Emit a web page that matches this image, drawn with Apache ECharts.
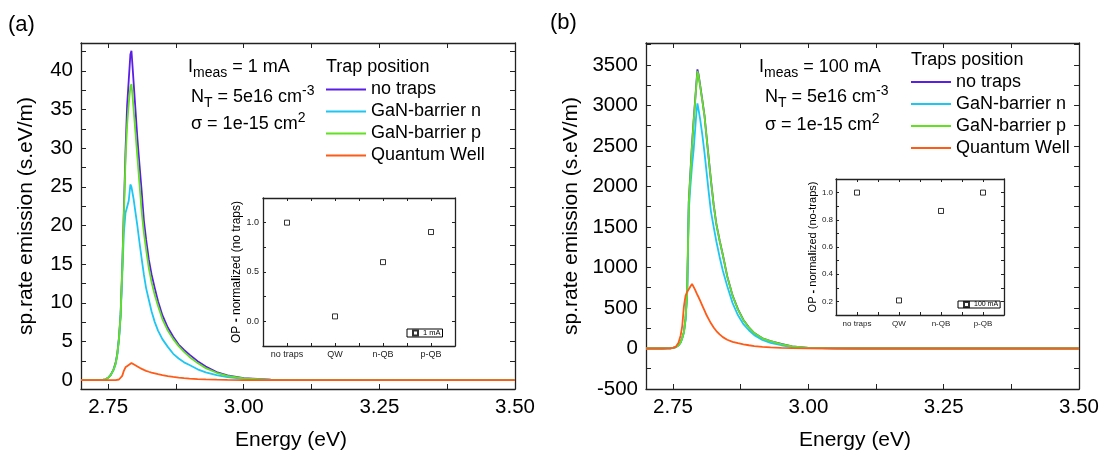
<!DOCTYPE html>
<html><head><meta charset="utf-8">
<script src="https://cdn.jsdelivr.net/npm/echarts@6/dist/echarts.min.js"></script>
<style>html,body{margin:0;padding:0;background:#fff}#c{width:1102px;height:456px}</style>
</head><body><div id="c"></div>
<script>
const F = "'Liberation Sans', Arial, Helvetica, sans-serif";

// Energy grid (eV)
const energy = [2.70, 2.73, 2.74, 2.745, 2.75, 2.755, 2.76, 2.764, 2.767, 2.770, 2.773, 2.776, 2.779, 2.782, 2.785, 2.788, 2.791, 2.793, 2.795, 2.797, 2.800, 2.804, 2.808, 2.812, 2.816, 2.820, 2.825, 2.830, 2.836, 2.842, 2.850, 2.860, 2.870, 2.880, 2.890, 2.900, 2.915, 2.930, 2.950, 2.970, 3.000, 3.050, 3.100, 3.200, 3.300, 3.400, 3.500];

// Panel (a): I_meas = 1 mA
const aNoTraps = [0, 0, 0.02, 0.1, 0.3, 0.7, 1.4, 2.3, 3.5, 5.5, 8.5, 14.5, 22.0, 29.5, 35.5, 38.8, 42.1, 42.6, 40.6, 38.5, 35.4, 31.2, 27.7, 24.3, 20.6, 18.2, 15.6, 13.7, 11.9, 10.2, 8.4, 6.8, 5.6, 4.6, 3.9, 3.3, 2.45, 1.75, 1.05, 0.6, 0.25, 0.05, 0.01, 0, 0, 0, 0];
const aBarrierN = [0, 0, 0.02, 0.09, 0.28, 0.65, 1.3, 2.1, 3.3, 5.2, 8.2, 13.5, 19.0, 21.6, 22.4, 23.2, 25.3, 25.0, 24.2, 23.4, 21.9, 19.9, 17.7, 15.6, 13.6, 11.9, 10.4, 8.9, 7.5, 6.4, 5.3, 4.3, 3.4, 2.8, 2.3, 1.95, 1.4, 1.0, 0.65, 0.4, 0.15, 0.03, 0, 0, 0, 0, 0];
const aBarrierP = [0, 0, 0.02, 0.1, 0.29, 0.68, 1.35, 2.2, 3.4, 5.4, 8.4, 14.3, 21.5, 28.5, 33.0, 35.8, 37.9, 38.3, 36.8, 35.0, 32.4, 28.8, 25.2, 21.7, 19.0, 16.9, 14.5, 12.7, 11.0, 9.6, 7.9, 6.4, 5.3, 4.4, 3.65, 3.0, 2.2, 1.55, 0.95, 0.55, 0.22, 0.04, 0.01, 0, 0, 0, 0];
const aQW = [0, 0, 0, 0, 0, 0, 0, 0.01, 0.03, 0.08, 0.22, 0.55, 1.2, 1.65, 1.8, 1.95, 2.15, 2.2, 2.12, 2.04, 1.92, 1.76, 1.6, 1.45, 1.32, 1.2, 1.08, 0.97, 0.87, 0.77, 0.65, 0.52, 0.42, 0.33, 0.26, 0.2, 0.14, 0.09, 0.05, 0.03, 0.01, 0, 0, 0, 0, 0, 0];

// Panel (b): I_meas = 100 mA
const bNoTraps = [0, 0, 1, 3, 8, 18, 39, 77, 133, 205, 368, 690, 1810, 2165, 2525, 2815, 3085, 3265, 3445, 3385, 3250, 3068, 2878, 2607, 2336, 2075, 1775, 1535, 1334, 1154, 893, 652, 482, 352, 261, 191, 126, 91, 56, 25, 8, 1, 0, 0, 0, 0, 0];
const bBarrierN = [0, 0, 1, 3, 8, 17, 36, 72, 125, 195, 350, 670, 1700, 2000, 2250, 2450, 2720, 2900, 3025, 2950, 2830, 2640, 2420, 2170, 1920, 1690, 1500, 1320, 1130, 960, 770, 560, 410, 300, 225, 165, 105, 70, 40, 18, 6, 1, 0, 0, 0, 0, 0];
const bBarrierP = [0, 0, 1, 3, 8, 18, 38, 75, 130, 200, 360, 680, 1800, 2150, 2510, 2800, 3070, 3250, 3425, 3370, 3240, 3060, 2870, 2600, 2330, 2070, 1770, 1530, 1330, 1150, 890, 650, 480, 350, 260, 190, 125, 90, 55, 25, 8, 1, 0, 0, 0, 0, 0];
const bQW = [0, 0, 1, 3, 8, 20, 70, 160, 280, 520, 650, 700, 730, 765, 795, 760, 720, 690, 660, 635, 590, 530, 470, 410, 360, 310, 260, 215, 175, 140, 108, 82, 65, 52, 40, 30, 20, 13, 7, 4, 1.5, 0, 0, 0, 0, 0, 0];

const seriesNames = ['no traps', 'GaN-barrier n', 'GaN-barrier p', 'Quantum Well'];
const seriesColors = ['#5B1EE6', '#1EC6F2', '#62E021', '#FF5A16'];

// Insets
const insetCategories = ['no traps', 'QW', 'n-QB', 'p-QB'];
const inset1mA = [1.0, 0.05, 0.6, 0.905];
const inset100mA = [1.0, 0.207, 0.865, 1.0];

// Tick labels
const energyTicks = [2.75, 3.00, 3.25, 3.50];
const aYTicks = [0, 5, 10, 15, 20, 25, 30, 35, 40];
const bYTicks = [-500, 0, 500, 1000, 1500, 2000, 2500, 3000, 3500];
const insetAYTicks = [0.0, 0.5, 1.0];
const insetBYTicks = [0.2, 0.4, 0.6, 0.8, 1.0];

function mkFmt(list, dec) {
  return v => list.some(t => Math.abs(t - v) < 1e-7) ? (Math.abs(v) < 1e-9 ? 0 : v).toFixed(dec) : '';
}
function catFmt(v) {
  const r = Math.round(v);
  return Math.abs(v - r) < 1e-7 && r >= 1 && r <= insetCategories.length ? insetCategories[r - 1] : '';
}

const lineCol = '#222';
function common(tickLen) {
  return {
    axisLine: { show: true, onZero: false, lineStyle: { color: lineCol, width: 1.3 } },
    axisTick: { show: true, inside: true, length: tickLen, lineStyle: { color: lineCol, width: 1 } },
    splitLine: { show: false }
  };
}
function mainLabel(fmt) {
  return { formatter: fmt, fontSize: 20.5, color: '#000', fontFamily: F, margin: 8 };
}
function insetLabel(fmt, size, margin) {
  return { formatter: fmt, fontSize: size, color: '#222', fontFamily: F, margin: margin };
}

const xAxes = [
  Object.assign({ gridIndex: 0, type: 'value', position: 'bottom', min: 2.7, max: 3.5, minInterval: 0.125, maxInterval: 0.125,
    axisLabel: mainLabel(mkFmt(energyTicks, 2)), name: 'Energy (eV)', nameLocation: 'middle', nameGap: 41,
    nameTextStyle: { fontSize: 21, fontFamily: F, color: '#000', padding: [0, 14, 0, 0] } }, common(5)),
  Object.assign({ gridIndex: 0, type: 'value', position: 'top', min: 2.7, max: 3.5, minInterval: 0.125, maxInterval: 0.125, axisLabel: { show: false } }, common(5)),
  Object.assign({ gridIndex: 1, type: 'value', position: 'bottom', min: 2.7, max: 3.5, minInterval: 0.125, maxInterval: 0.125,
    axisLabel: mainLabel(mkFmt(energyTicks, 2)), name: 'Energy (eV)', nameLocation: 'middle', nameGap: 41,
    nameTextStyle: { fontSize: 21, fontFamily: F, color: '#000', padding: [0, 15, 0, 0] } }, common(5)),
  Object.assign({ gridIndex: 1, type: 'value', position: 'top', min: 2.7, max: 3.5, minInterval: 0.125, maxInterval: 0.125, axisLabel: { show: false } }, common(5)),
  Object.assign({ gridIndex: 2, type: 'value', position: 'bottom', min: 0.5, max: 4.5, minInterval: 0.5, maxInterval: 0.5,
    axisLabel: insetLabel(catFmt, 9, 4) }, common(3)),
  Object.assign({ gridIndex: 2, type: 'value', position: 'top', min: 0.5, max: 4.5, minInterval: 0.5, maxInterval: 0.5, axisLabel: { show: false } }, common(3)),
  Object.assign({ gridIndex: 3, type: 'value', position: 'bottom', min: 0.5, max: 4.5, minInterval: 0.5, maxInterval: 0.5,
    axisLabel: insetLabel(catFmt, 8, 5) }, common(3)),
  Object.assign({ gridIndex: 3, type: 'value', position: 'top', min: 0.5, max: 4.5, minInterval: 0.5, maxInterval: 0.5, axisLabel: { show: false } }, common(3))
];

const yAxes = [
  Object.assign({ gridIndex: 0, type: 'value', position: 'left', min: -1.15, max: 43.6, minInterval: 2.5, maxInterval: 2.5,
    axisLabel: mainLabel(mkFmt(aYTicks, 0)), name: 'sp.rate emission (s.eV/m)', nameLocation: 'middle', nameGap: 44,
    nameTextStyle: { fontSize: 21, fontFamily: F, color: '#000' } }, common(5)),
  Object.assign({ gridIndex: 0, type: 'value', position: 'right', min: -1.15, max: 43.6, minInterval: 2.5, maxInterval: 2.5, axisLabel: { show: false } }, common(5)),
  Object.assign({ gridIndex: 1, type: 'value', position: 'left', min: -500, max: 3770, minInterval: 250, maxInterval: 250,
    axisLabel: mainLabel(mkFmt(bYTicks, 0)), name: 'sp.rate emission (s.eV/m)', nameLocation: 'middle', nameGap: 64,
    nameTextStyle: { fontSize: 21, fontFamily: F, color: '#000' } }, common(5)),
  Object.assign({ gridIndex: 1, type: 'value', position: 'right', min: -500, max: 3770, minInterval: 250, maxInterval: 250, axisLabel: { show: false } }, common(5)),
  Object.assign({ gridIndex: 2, type: 'value', position: 'left', min: -0.25, max: 1.25, minInterval: 0.25, maxInterval: 0.25,
    axisLabel: insetLabel(mkFmt(insetAYTicks, 1), 9, 4), name: 'OP {b|-} norma{b|l}ized (no traps)', nameLocation: 'middle', nameGap: 18,
    nameTextStyle: { fontSize: 12, fontFamily: F, color: '#000', rich: { b: { fontWeight: 'bold', fontSize: 12, fontFamily: F, color: '#000' } } } }, common(3)),
  Object.assign({ gridIndex: 2, type: 'value', position: 'right', min: -0.25, max: 1.25, minInterval: 0.25, maxInterval: 0.25, axisLabel: { show: false } }, common(3)),
  Object.assign({ gridIndex: 3, type: 'value', position: 'left', min: 0.1, max: 1.1, minInterval: 0.1, maxInterval: 0.1,
    axisLabel: insetLabel(mkFmt(insetBYTicks, 1), 8, 3), name: 'OP {b|-} norma{b|l}ized (no-traps)', nameLocation: 'middle', nameGap: 16,
    nameTextStyle: { fontSize: 11, fontFamily: F, color: '#000', rich: { b: { fontWeight: 'bold', fontSize: 11, fontFamily: F, color: '#000' } } } }, common(3)),
  Object.assign({ gridIndex: 3, type: 'value', position: 'right', min: 0.1, max: 1.1, minInterval: 0.1, maxInterval: 0.1, axisLabel: { show: false } }, common(3))
];

const panelA = [aNoTraps, aBarrierN, aBarrierP, aQW];
const panelB = [bNoTraps, bBarrierN, bBarrierP, bQW];
const series = [];
function addLines(arrs, axisIdx) {
  arrs.forEach((vals, k) => {
    series.push({
      name: seriesNames[k], type: 'line', xAxisIndex: axisIdx, yAxisIndex: axisIdx,
      data: energy.map((e, i) => [e, vals[i]]),
      symbol: 'none', showSymbol: false, smooth: false, silent: true,
      lineStyle: { color: seriesColors[k], width: 1.8 }, itemStyle: { color: seriesColors[k] }
    });
  });
}
addLines(panelA, 0);
addLines(panelB, 2);
function addInset(name, vals, axisIdx) {
  series.push({
    name: name, type: 'scatter', xAxisIndex: axisIdx, yAxisIndex: axisIdx,
    data: vals.map((v, i) => [i + 1, v]), symbol: 'rect', symbolSize: 5, silent: true,
    itemStyle: { color: '#fff', borderColor: '#000', borderWidth: 1 }
  });
}
addInset('1 mA', inset1mA, 4);
addInset('100 mA', inset100mA, 6);

const R = {
  n: { fontSize: 18, fontFamily: F, lineHeight: 26, fill: '#000' },
  sb: { fontSize: 14, fontFamily: F, lineHeight: 14, verticalAlign: 'bottom', fill: '#000' },
  sp: { fontSize: 14, fontFamily: F, lineHeight: 14, verticalAlign: 'top', fill: '#000' }
};
function rt(x, y, text) {
  return { type: 'text', x: x, y: y, silent: true, style: { text: text, rich: R, verticalAlign: 'middle', align: 'left' } };
}
function pt(x, y, text, size) {
  return { type: 'text', x: x, y: y, silent: true, style: { text: text, fontSize: size, fontFamily: F, fill: '#000', verticalAlign: 'middle', align: 'left' } };
}
function mainLegend(left, top) {
  return { left: left, top: top, orient: 'vertical', icon: 'rect', itemWidth: 40, itemHeight: 2, itemGap: 2, padding: 0, selectedMode: false,
    data: seriesNames, textStyle: { fontSize: 18, fontFamily: F, color: '#000', lineHeight: 20 } };
}

const option = {
  backgroundColor: '#fff',
  animation: false,
  grid: [
    { left: 81, top: 43, width: 434, height: 350, containLabel: false },
    { left: 646, top: 43, width: 434, height: 350, containLabel: false },
    { left: 263, top: 198, width: 192, height: 148, containLabel: false },
    { left: 836, top: 179, width: 168, height: 136, containLabel: false }
  ],
  xAxis: xAxes,
  yAxis: yAxes,
  legend: [
    mainLegend(326, 79.5),
    mainLegend(911, 72),
    { left: 407, top: 329, itemWidth: 5, itemHeight: 5, padding: [0, 2, 0, 5], selectedMode: false, borderColor: '#000', borderWidth: 1,
      data: ['1 mA'], textStyle: { fontSize: 7.5, fontFamily: F, color: '#000', lineHeight: 7 } },
    { left: 958, top: 301, itemWidth: 5, itemHeight: 5, padding: [0, 2, 0, 5], selectedMode: false, borderColor: '#000', borderWidth: 1,
      data: ['100 mA'], textStyle: { fontSize: 7, fontFamily: F, color: '#000', lineHeight: 7 } }
  ],
  graphic: [
    pt(8, 25, '(a)', 22),
    pt(550, 23, '(b)', 22),
    pt(326, 67, 'Trap position', 18),
    pt(911, 60, 'Traps position', 18),
    rt(188, 67, '{n|I}{sb|meas}{n| = 1 mA}'),
    rt(191, 97, '{n|N}{sb|T}{n| = 5e16 cm}{sp|-3}'),
    rt(191, 124, '{n|σ = 1e-15 cm}{sp|2}'),
    rt(759, 67.5, '{n|I}{sb|meas}{n| = 100 mA}'),
    rt(765, 97, '{n|N}{sb|T}{n| = 5e16 cm}{sp|-3}'),
    rt(765, 125, '{n|σ = 1e-15 cm}{sp|2}')
  ],
  series: series
};

const chart = echarts.init(document.getElementById('c'), null, { renderer: 'canvas', width: 1102, height: 456 });
chart.setOption(option);
</script>
</body></html>
